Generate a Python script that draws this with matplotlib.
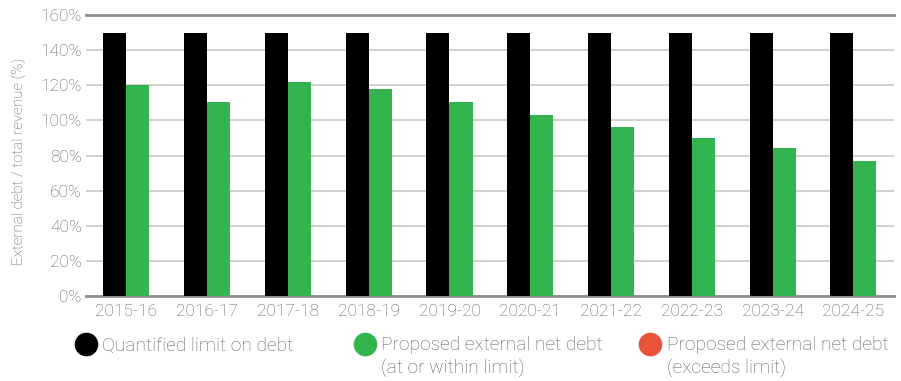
import numpy as np
import matplotlib
matplotlib.use('Agg')
import matplotlib.pyplot as plt
from matplotlib.lines import Line2D

plt.rcParams['font.family'] = ['Roboto', 'DejaVu Sans']

years = ['2015-16', '2016-17', '2017-18', '2018-19', '2019-20',
         '2020-21', '2021-22', '2022-23', '2023-24', '2024-25']
limit = [150, 150, 150, 150, 150, 150, 150, 150, 150, 150]
proposed = [120, 110.5, 122, 118, 110.5, 103, 96.5, 90, 84, 77]
yticks = [0, 20, 40, 60, 80, 100, 120, 140, 160]

legend_labels = [['Quantified limit on debt'],
                 ['Proposed external net debt', '(at or within limit)'],
                 ['Proposed external net debt', '(exceeds limit)']]
legend_colors = ['#000000', '#33b44f', '#e8533a']

TXT = '#5e5e60'
W = 0.285

fig = plt.figure(figsize=(9.01, 3.81), dpi=100)
ax = fig.add_axes([0.0954, 0.2231, 0.8966, 0.7375])

x = np.arange(len(years))
ax.bar(x - W/2, limit, W, color='#000000', zorder=3)
ax.bar(x + W/2, proposed, W, color='#33b44f', zorder=3)

ax.set_xlim(-0.5, len(years) - 0.5)
ax.set_ylim(0, 160)
ax.set_yticks(yticks)
ax.set_yticklabels([f'{v}%' for v in yticks])
ax.set_xticks(x)
ax.set_xticklabels(years)
ax.tick_params(axis='both', length=0, colors=TXT, labelsize=12.5)
ax.tick_params(axis='x', pad=6)
ax.tick_params(axis='y', pad=3)
for lab in ax.get_xticklabels() + ax.get_yticklabels():
    lab.set_fontweight('light')

ax.grid(axis='y', color='#c8c8c8', linewidth=1.2, zorder=0)
for s in ['left', 'right']:
    ax.spines[s].set_visible(False)
ax.spines['top'].set_color('#8e8e90')
ax.spines['top'].set_linewidth(2)
ax.spines['bottom'].set_color('#8e8e90')
ax.spines['bottom'].set_linewidth(2)

fig.text(0.021, 0.577, 'External debt / total revenue (%)', rotation=90,
         ha='center', va='center', color=TXT, fontsize=11, fontweight='light')

# legend
circ_x = [86/901, 365/901, 650/901]
text_x = [102/901, 381/901, 667/901]
cy = (381 - 344) / 381
base = [(381 - 350.5) / 381, (381 - 373.5) / 381]
for cx, tx, lines, col in zip(circ_x, text_x, legend_labels, legend_colors):
    fig.add_artist(Line2D([cx], [cy], marker='o', markersize=16, color=col,
                          linestyle='none', transform=fig.transFigure))
    for i, ln in enumerate(lines):
        fig.text(tx, base[i], ln, ha='left', va='baseline', color=TXT,
                 fontsize=13.8, fontweight='light')

plt.savefig('out.png', dpi=100)
plt.close()
